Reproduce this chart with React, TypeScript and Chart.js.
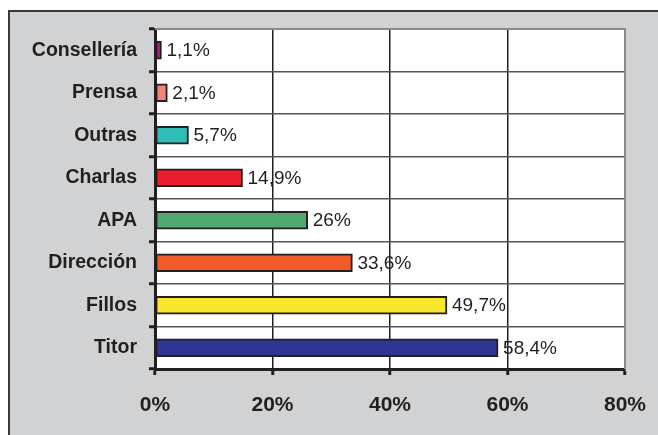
import React, { useEffect, useRef } from "react";
import { Chart, registerables } from "chart.js";

Chart.register(...registerables);

const categories = ["Consellería", "Prensa", "Outras", "Charlas", "APA", "Dirección", "Fillos", "Titor"];
const values = [1.1, 2.1, 5.7, 14.9, 26, 33.6, 49.7, 58.4];
const valueLabels = ["1,1%", "2,1%", "5,7%", "14,9%", "26%", "33,6%", "49,7%", "58,4%"];
const barColors = ["#b01f86", "#f08577", "#2fbdb7", "#ed1c2e", "#4fa96e", "#f15a29", "#f8e72c", "#2e3593"];
const xTicks = [0, 20, 40, 60, 80];

const FONT = "'Liberation Sans', Arial, sans-serif";

const bgPlugin = {
  id: "bgPlugin",
  beforeDraw(chart: any) {
    const ctx = chart.ctx;
    const { chartArea } = chart;
    ctx.save();
    ctx.fillStyle = "#ffffff";
    ctx.fillRect(0, 0, chart.width, chart.height);
    ctx.fillStyle = "#d1d2d4";
    ctx.fillRect(8, 11, chart.width - 8, chart.height - 11);
    ctx.strokeStyle = "#3a3a3a";
    ctx.lineWidth = 2;
    ctx.beginPath();
    ctx.moveTo(9, chart.height);
    ctx.lineTo(9, 11);
    ctx.lineTo(chart.width, 11);
    ctx.stroke();
    ctx.fillStyle = "#ffffff";
    ctx.fillRect(chartArea.left, chartArea.top, chartArea.right - chartArea.left, chartArea.bottom - chartArea.top);
    ctx.restore();
  },
  afterDatasetsDraw(chart: any) {
    const ctx = chart.ctx;
    const { chartArea } = chart;
    ctx.save();
    ctx.strokeStyle = "#8a8a8a";
    ctx.lineWidth = 2;
    ctx.beginPath();
    ctx.moveTo(chartArea.left, chartArea.top);
    ctx.lineTo(chartArea.right, chartArea.top);
    ctx.lineTo(chartArea.right, chartArea.bottom);
    ctx.stroke();
    const meta = chart.getDatasetMeta(0);
    ctx.fillStyle = "#231f20";
    ctx.font = "19px " + FONT;
    ctx.textBaseline = "middle";
    ctx.textAlign = "left";
    meta.data.forEach((bar: any, i: number) => {
      ctx.fillText(valueLabels[i], bar.x + 5, bar.y + 1);
    });
    ctx.restore();
  },
};

export default function App() {
  const ref = useRef<HTMLCanvasElement | null>(null);
  useEffect(() => {
    if (!ref.current) return;
    const chart = new Chart(ref.current, {
      type: "bar",
      data: {
        labels: categories,
        datasets: [
          {
            data: values,
            backgroundColor: barColors,
            borderColor: "#231f20",
            borderWidth: 2,
            borderSkipped: false,
            barThickness: 18,
          },
        ],
      },
      options: {
        indexAxis: "y",
        animation: false,
        responsive: false,
        layout: { padding: { left: 8, top: 29, right: 33, bottom: 0 } },
        plugins: { legend: { display: false }, tooltip: { enabled: false } },
        scales: {
          x: {
            min: 0,
            max: 80,
            afterBuildTicks(scale: any) {
              scale.ticks = xTicks.map((v) => ({ value: v }));
            },
            afterFit(scale: any) {
              scale.height = 66;
              scale.paddingLeft = 0;
              scale.paddingRight = 0;
            },
            border: { color: "#231f20", width: 3 },
            grid: {
              color: "#231f20",
              lineWidth: 1.5,
              tickColor: "#231f20",
              tickWidth: 3,
              tickLength: 6,
            },
            ticks: {
              padding: 18,
              color: "#231f20",
              font: { family: FONT, size: 21, weight: "bold" },
              callback: (v: any) => v + "%",
            },
          },
          y: {
            afterFit(scale: any) {
              scale.width = 147;
              scale.paddingTop = 0;
              scale.paddingBottom = 0;
            },
            border: { color: "#231f20", width: 3 },
            grid: {
              offset: true,
              color: "#555555",
              lineWidth: 1.5,
              tickColor: "#231f20",
              tickWidth: 3,
              tickLength: 6,
            },
            ticks: {
              padding: 12,
              color: "#231f20",
              font: { family: FONT, size: 19.5, weight: "bold" },
            },
          },
        },
      },
      plugins: [bgPlugin],
    });
    return () => chart.destroy();
  }, []);
  return (
    <canvas
      ref={ref}
      width={658}
      height={435}
      style={{ position: "fixed", left: 0, top: 0, width: 658, height: 435 }}
    />
  );
}
